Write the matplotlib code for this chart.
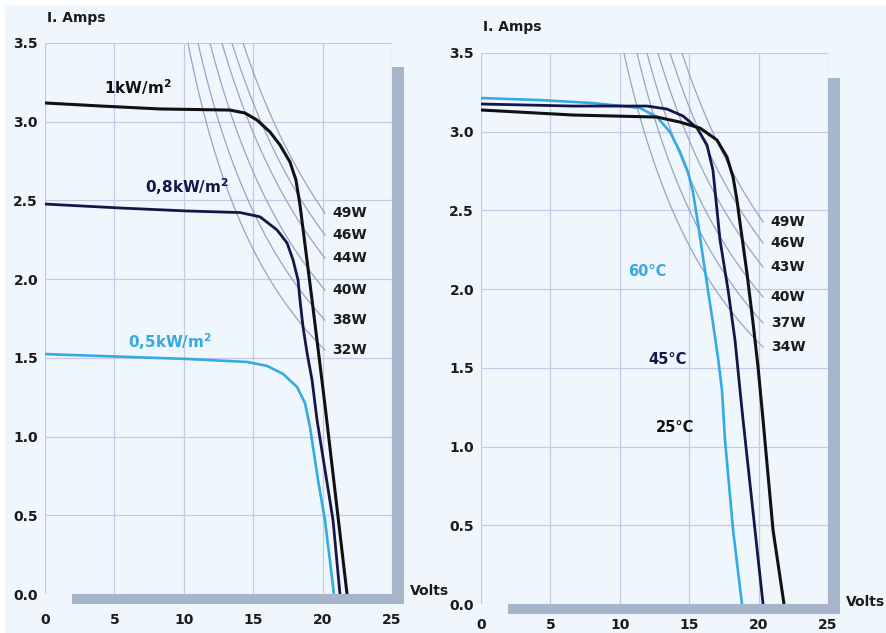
import numpy as np
import matplotlib
matplotlib.use("Agg")
import matplotlib.pyplot as plt
from matplotlib.patches import Rectangle

# ---------------- data ----------------
x_ticks = [0, 5, 10, 15, 20, 25]
y_ticks = [0.0, 0.5, 1.0, 1.5, 2.0, 2.5, 3.0, 3.5]
y_tick_labels = ["0.0", "0.5", "1.0", "1.5", "2.0", "2.5", "3.0", "3.5"]

# Left panel: irradiance curves (Volts, Amps)
v_1kw = [0.00, 3.96, 8.29, 13.33, 14.41, 15.27, 16.21, 16.93, 17.65, 18.08, 18.37, 19.24, 20.17, 20.97, 21.76]
i_1kw = [3.119, 3.100, 3.081, 3.074, 3.055, 3.011, 2.935, 2.852, 2.744, 2.630, 2.471, 1.867, 1.201, 0.597, 0.0]

v_08kw = [0.00, 5.40, 10.23, 14.05, 15.49, 16.71, 17.44, 17.87, 18.23, 18.37, 18.59, 18.88, 19.24, 19.60, 20.75, 21.25]
i_08kw = [2.477, 2.452, 2.433, 2.423, 2.396, 2.313, 2.230, 2.122, 1.995, 1.868, 1.696, 1.531, 1.359, 1.105, 0.470, 0.0]

v_05kw = [0.00, 3.96, 10.23, 14.55, 15.99, 17.15, 18.16, 18.73, 19.09, 19.67, 20.17, 20.82]
i_05kw = [1.524, 1.512, 1.493, 1.474, 1.449, 1.398, 1.315, 1.213, 1.061, 0.724, 0.470, 0.0]

irr_labels = ["1kW/m$^{\\mathbf{2}}$", "0,8kW/m$^{\\mathbf{2}}$", "0,5kW/m$^{\\mathbf{2}}$"]
irr_label_pos = [(6.70, 3.221), (10.23, 2.585), (9.01, 1.601)]

# Right panel: temperature curves
v_25c = [0.00, 6.63, 12.68, 14.34, 15.78, 17.00, 17.72, 18.16, 18.44, 18.66, 19.16, 19.60, 19.96, 20.32, 21.04, 21.83]
i_25c = [3.138, 3.106, 3.093, 3.061, 3.023, 2.947, 2.839, 2.712, 2.567, 2.421, 2.103, 1.785, 1.505, 1.169, 0.470, 0.0]

v_45c = [0.00, 6.63, 11.96, 13.40, 14.55, 15.56, 16.28, 16.71, 16.93, 17.22, 17.80, 18.30, 18.66, 18.88, 19.74, 20.32]
i_45c = [3.176, 3.163, 3.163, 3.144, 3.100, 3.024, 2.916, 2.757, 2.566, 2.312, 1.995, 1.677, 1.359, 1.169, 0.470, 0.0]

v_60c = [0.00, 4.25, 8.07, 11.46, 12.68, 13.62, 14.34, 14.91, 15.27, 15.63, 15.99, 16.35, 16.71, 17.07, 17.36, 17.58, 18.16, 18.80]
i_60c = [3.214, 3.201, 3.182, 3.151, 3.093, 2.998, 2.871, 2.744, 2.617, 2.420, 2.204, 1.995, 1.785, 1.569, 1.359, 1.042, 0.470, 0.0]

temp_labels = ["60°C", "45°C", "25°C"]
temp_label_pos = [(11.96, 2.109), (13.47, 1.556), (13.98, 1.118)]

# Iso-power curves: voltage where they leave the top (3.5 A), current where they end
left_power_labels = ["32W", "38W", "40W", "44W", "46W", "49W"]
left_power_vtop = [10.30, 11.02, 11.89, 12.75, 13.47, 14.27]
left_power_iend = [1.550, 1.740, 1.931, 2.134, 2.280, 2.420]
left_power_vend = 20.17

right_power_labels = ["34W", "37W", "40W", "43W", "46W", "49W"]
right_power_vtop = [10.30, 11.24, 11.96, 12.75, 13.62, 14.48]
right_power_iend = [1.632, 1.785, 1.950, 2.141, 2.293, 2.427]
right_power_vend = 20.32

# ---------------- style ----------------
BG = "#eff7fd"
GRID = "#c6c8e6"
POWER = "#98a3c4"
SHADOW = "#a7b5ca"
TXT = "#1b1b1b"
BLACK = "#111111"
NAVY = "#15154a"
LBLUE = "#35a9e4"

W, H = 886, 633
fig = plt.figure(figsize=(W / 100, H / 100), dpi=100)
fig.patch.set_facecolor("white")
fig.add_artist(Rectangle((5 / W, 0), 1, 1 - 5 / H, transform=fig.transFigure,
                         facecolor=BG, edgecolor="none", zorder=-10))

plt.rcParams["font.family"] = ["DejaVu Sans"]
plt.rcParams["mathtext.fontset"] = "dejavusans"


def px_axes(x0, x1, ybot, ytop):
    return fig.add_axes([x0 / W, 1 - ybot / H, (x1 - x0) / W, (ybot - ytop) / H])


def setup(ax, pad_x):
    ax.set_xlim(0, 25)
    ax.set_ylim(0, 3.5)
    ax.patch.set_alpha(0)
    for s in ax.spines.values():
        s.set_visible(False)
    for xv in x_ticks:
        ax.axvline(xv, color=GRID, lw=0.9, zorder=1)
    for yv in y_ticks:
        ax.axhline(yv, color=GRID, lw=0.9, zorder=1)
    ax.set_xticks(x_ticks)
    ax.set_xticklabels([str(t) for t in x_ticks])
    ax.set_yticks(y_ticks)
    ax.set_yticklabels(y_tick_labels)
    ax.tick_params(length=0, labelsize=10, labelcolor=TXT)
    ax.tick_params(axis="x", pad=pad_x)
    ax.tick_params(axis="y", pad=5)
    for lab in ax.get_xticklabels() + ax.get_yticklabels():
        lab.set_fontweight("bold")


def shadows(ax, top_i, h_start):
    sw = 12 / 13.88
    sh = 10 / 157.43
    ax.add_patch(Rectangle((25, -sh), sw, top_i + sh, facecolor=SHADOW,
                           edgecolor="none", clip_on=False, zorder=2))
    ax.add_patch(Rectangle((h_start, -sh), 25 - h_start, sh, facecolor=SHADOW,
                           edgecolor="none", clip_on=False, zorder=2))


def power_curves(ax, vtops, iends, vend, labels):
    for vt, ie, lab in zip(vtops, iends, labels):
        v0 = (3.5 * vt - ie * vend) / (3.5 - ie)
        k = 3.5 * (vt - v0)
        vv = np.linspace(vt, vend, 80)
        ax.plot(vv, k / (vv - v0), color=POWER, lw=0.9, zorder=3)
        ax.text(vend + 0.55, ie, lab, fontsize=10, fontweight="bold",
                color=TXT, ha="left", va="center", zorder=6)


def iv(ax, v, i, color, lw, z):
    ax.plot(v, i, color=color, lw=lw, zorder=z, solid_capstyle="butt",
            solid_joinstyle="round")


# ---------------- left panel ----------------
axL = px_axes(45, 392, 594, 43)
setup(axL, pad_x=14)
shadows(axL, 3.348, 1.95)
power_curves(axL, left_power_vtop, left_power_iend, left_power_vend, left_power_labels)
iv(axL, v_05kw, i_05kw, LBLUE, 1.9, 4)
iv(axL, v_08kw, i_08kw, NAVY, 2.0, 4)
iv(axL, v_1kw, i_1kw, BLACK, 2.2, 5)
for lab, (xv, yv), c in zip(irr_labels, irr_label_pos, [BLACK, NAVY, LBLUE]):
    axL.text(xv, yv, lab, fontsize=11, fontweight="bold", color=c,
             ha="center", va="center", zorder=6)

# ---------------- right panel ----------------
axR = px_axes(481, 828, 604, 53)
setup(axR, pad_x=10)
shadows(axR, 3.341, 1.95)
power_curves(axR, right_power_vtop, right_power_iend, right_power_vend, right_power_labels)
iv(axR, v_60c, i_60c, LBLUE, 1.9, 4)
iv(axR, v_45c, i_45c, NAVY, 2.0, 4)
iv(axR, v_25c, i_25c, BLACK, 2.2, 5)
for lab, (xv, yv), c in zip(temp_labels, temp_label_pos, [LBLUE, NAVY, BLACK]):
    axR.text(xv, yv, lab, fontsize=10.5, fontweight="bold", color=c,
             ha="center", va="center", zorder=6)

# ---------------- axis titles ----------------
fig.text(47 / W, 1 - 18 / H, "I. Amps", fontsize=10, fontweight="bold",
         color=TXT, ha="left", va="center")
fig.text(483 / W, 1 - 27 / H, "I. Amps", fontsize=10, fontweight="bold",
         color=TXT, ha="left", va="center")
fig.text(410 / W, 1 - 591 / H, "Volts", fontsize=10, fontweight="bold",
         color=TXT, ha="left", va="center")
fig.text(846 / W, 1 - 602 / H, "Volts", fontsize=10, fontweight="bold",
         color=TXT, ha="left", va="center")

fig.savefig("out.png", dpi=100)
